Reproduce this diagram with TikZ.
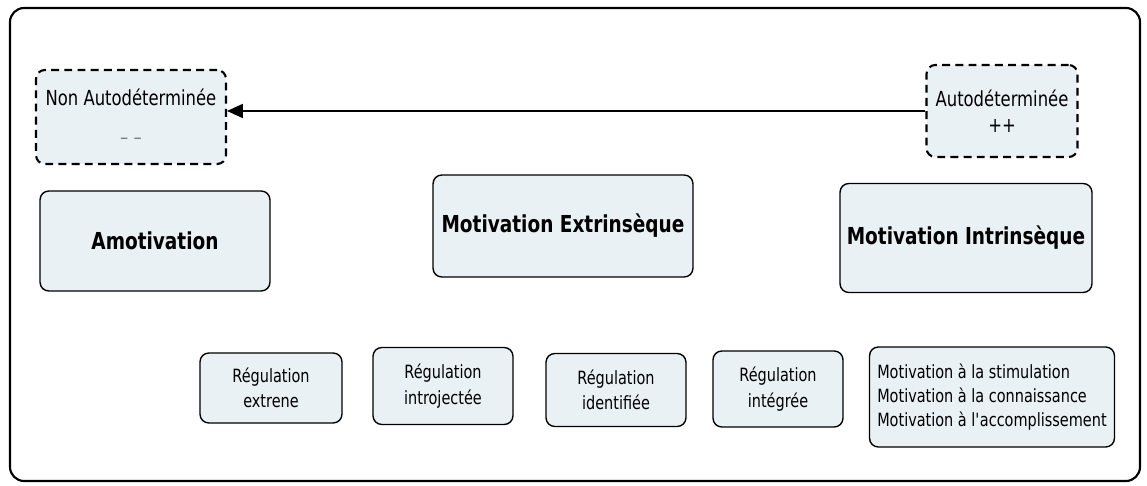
\documentclass[tikz,border=0pt]{standalone}
\usepackage{fontspec}
\setmainfont{DejaVu Sans Condensed}[FakeStretch=0.88]
\usetikzlibrary{arrows.meta}
\definecolor{boxfill}{RGB}{234,241,245}
\begin{document}
\begin{tikzpicture}[x=0.02cm, y=-0.02cm, every node/.style={font=\fontsize{10.4}{13.5}\selectfont},
  box/.style={draw, thick, fill=boxfill, rounded corners=5pt, align=center, inner sep=2pt},
  dashbox/.style={box, line width=1.2pt, dash pattern=on 4.5pt off 3pt, font=\fontsize{11.8}{14}\selectfont},
  title/.style={box, font=\bfseries\fontsize{13.3}{15}\selectfont}]
  \useasboundingbox (0,0) rectangle (1147,486);
  % frame
  \draw[line width=1.2pt, rounded corners=8pt] (10,8) rectangle (1140,481);
  % poles
  \node[dashbox, minimum width=3.8cm, minimum height=1.88cm] (nonauto) at (131,117)
    {Non Autodéterminée\\[8pt]{\color{gray}– –}};
  \node[dashbox, minimum width=3.02cm, minimum height=1.84cm] (auto) at (1002,111)
    {Autodéterminée\\[1pt]++};
  \draw[thick, -{Triangle[length=9pt, width=8pt]}] (auto.west) -- (auto.west -| nonauto.east);
  % main types
  \node[title, minimum width=4.6cm, minimum height=2cm] (amot) at (155,241) {Amotivation};
  \node[title, minimum width=5.2cm, minimum height=2.04cm] (extr) at (563,226) {Motivation Extrinsèque};
  \node[title, minimum width=5.04cm, minimum height=2.18cm] (intr) at (966,238) {Motivation Intrinsèque};
  % regulations
  \node[box, minimum width=2.84cm, minimum height=1.4cm] (regext) at (271,388) {Régulation\\[1pt]extrene};
  \node[box, minimum width=2.8cm, minimum height=1.54cm] (regintro) at (443,386) {Régulation\\[1pt]introjectée};
  \node[box, minimum width=2.8cm, minimum height=1.46cm] (regident) at (616,390) {Régulation\\[1pt]identifiée};
  \node[box, minimum width=2.6cm, minimum height=1.52cm] (reginteg) at (778,389) {Régulation\\[1pt]intégrée};
  \node[box, align=left, minimum width=4.9cm, minimum height=2cm] (motint) at (992,397)
    {Motivation à la stimulation\\Motivation à la connaissance\\Motivation à l\textquotesingle accomplissement};
\end{tikzpicture}
\end{document}
